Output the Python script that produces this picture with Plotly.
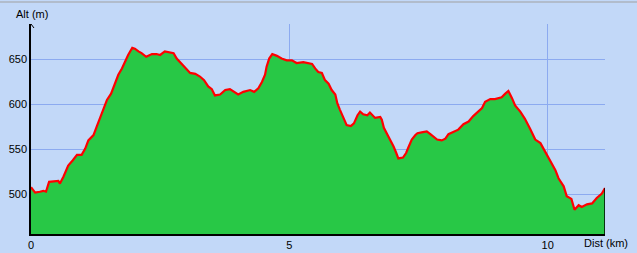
import plotly.graph_objects as go

dist_km = [0, 0.08, 0.17, 0.24, 0.29, 0.35, 0.53, 0.56, 0.63, 0.72, 0.81, 0.89, 0.98, 1.05, 1.11, 1.21, 1.27, 1.34, 1.40, 1.47,
           1.55, 1.63, 1.69, 1.76, 1.82, 1.88, 1.96, 2.01, 2.08, 2.14, 2.23, 2.34, 2.43, 2.50, 2.59, 2.69, 2.76, 2.82, 2.87, 2.92,
           2.98, 3.08, 3.18, 3.27, 3.35, 3.43, 3.50, 3.56, 3.66, 3.76, 3.85, 3.92, 4.01, 4.11, 4.24, 4.32, 4.40, 4.47, 4.53, 4.56,
           4.61, 4.67, 4.76, 4.85, 4.95, 5.05, 5.14, 5.27, 5.37, 5.44, 5.50, 5.56, 5.63, 5.69, 5.76, 5.82, 5.89, 5.93, 5.98, 6.05,
           6.11, 6.19, 6.25, 6.32, 6.37, 6.43, 6.51, 6.56, 6.66, 6.76, 6.79, 6.83, 6.90, 6.96, 7.02, 7.07, 7.11, 7.20, 7.26, 7.31,
           7.37, 7.44, 7.48, 7.56, 7.66, 7.73, 7.79, 7.86, 7.95, 8.02, 8.08, 8.18, 8.27, 8.37, 8.47, 8.56, 8.66, 8.73, 8.79, 8.89,
           8.98, 9.11, 9.18, 9.24, 9.31, 9.37, 9.47, 9.56, 9.66, 9.76, 9.86, 9.95, 10.05, 10.15, 10.21, 10.31, 10.37, 10.46, 10.52,
           10.60, 10.66, 10.76, 10.86, 10.95, 11.05, 11.11]
alt_m = [508, 502, 503, 504, 503, 514, 515, 512, 520, 532, 538, 544, 544, 551, 560, 566, 575, 585, 594, 605,
         612, 623, 633, 640, 648, 655, 663, 662, 659, 657, 653, 656, 656, 655, 659, 658, 657, 651, 648, 644,
         641, 635, 634, 631, 627, 620, 617, 610, 611, 616, 617, 614, 611, 614, 616, 614, 618, 625, 633, 642,
         651, 656, 654, 651, 649, 649, 646, 647, 646, 645, 640, 636, 635, 627, 623, 616, 611, 601, 594, 585,
         577, 576, 579, 588, 592, 589, 588, 591, 585, 586, 583, 574, 566, 561, 553, 546, 540, 541, 546, 553,
         561, 566, 568, 569, 570, 567, 564, 561, 560, 562, 567, 570, 572, 578, 581, 587, 592, 596, 603, 606,
         606, 608, 612, 615, 607, 599, 592, 584, 573, 561, 557, 548, 537, 527, 518, 509, 498, 495, 483,
         488, 486, 489, 490, 496, 501, 507]

y_ticks = [500, 550, 600, 650]
x_ticks = [0, 5, 10]
y_min, y_max = 456, 689.4
x_max = dist_km[-1]

BG = "#C2D8F8"
GRID = "#8CAAF0"
FONT = "Liberation Sans"

fig = go.Figure()
fig.add_trace(go.Scatter(x=dist_km, y=alt_m, mode="lines", fill="tozeroy",
                         fillcolor="#28C846", line=dict(color="#FF0000", width=2.2),
                         hoverinfo="skip", showlegend=False))
fig.add_trace(go.Scatter(x=[x_max, x_max], y=[y_min, alt_m[-1]], mode="lines",
                         line=dict(color="#000000", width=1.5), showlegend=False, hoverinfo="skip"))

fig.update_layout(
    width=637, height=253,
    margin=dict(l=31, r=32, t=24, b=19, pad=0, autoexpand=False),
    paper_bgcolor=BG, plot_bgcolor=BG,
    font=dict(family=FONT, size=11, color="#000000"),
    xaxis=dict(range=[0, x_max], tickvals=x_ticks, ticktext=[str(v) for v in x_ticks],
               showgrid=True, gridcolor=GRID, gridwidth=1, zeroline=False, automargin=False,
               showline=True, linecolor="#000000", linewidth=1.5, ticks="",
               tickfont=dict(family=FONT, size=11)),
    yaxis=dict(range=[y_min, y_max], tickvals=y_ticks, ticktext=[str(v) for v in y_ticks],
               showgrid=True, gridcolor=GRID, gridwidth=1, zeroline=False, automargin=False,
               showline=True, linecolor="#000000", linewidth=1.5, ticks="",
               tickfont=dict(family=FONT, size=11)),
    annotations=[
        dict(text="Alt (m)", xref="paper", yref="paper", x=0, y=1, xshift=1, yshift=10,
             showarrow=False, xanchor="center", yanchor="middle", font=dict(size=11)),
        dict(text="Dist (km)", xref="paper", yref="paper", x=1, y=0, xshift=1, yshift=-9,
             showarrow=False, xanchor="center", yanchor="middle", font=dict(size=11)),
    ],
    shapes=[
        dict(type="line", xref="paper", yref="paper", x0=-0.1, x1=1.1,
             y0=(233 - 1.5 + 0.5) / 210, y1=(233 - 1.5 + 0.5) / 210,
             line=dict(color="#A0A0A0", width=1.2)),
        dict(type="line", xref="x", yref="y", xsizemode="pixel", ysizemode="pixel",
             xanchor=0, yanchor=y_max, x0=-3, x1=0, y0=-4, y1=0, line=dict(color="#000000", width=1)),
        dict(type="line", xref="x", yref="y", xsizemode="pixel", ysizemode="pixel",
             xanchor=0, yanchor=y_max, x0=3, x1=0, y0=-4, y1=0, line=dict(color="#000000", width=1)),
    ],
)

fig.write_html("out.html")
